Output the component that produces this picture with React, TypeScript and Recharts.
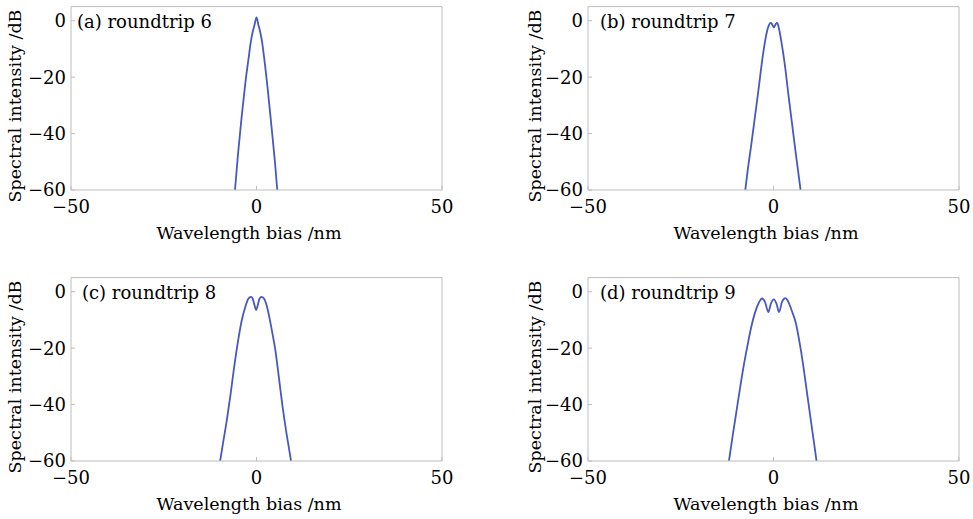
import React from "react";
import { LineChart, Line, XAxis, YAxis, Customized } from "recharts";

// wavelength bias (nm) and spectral intensity (dB)
const waveA = [-5.8, -5, -4, -3, -2, -1.6, -1, -0.5, 0, 0.5, 1, 1.5, 2, 3, 4, 5, 5.6];
const specA = [-60, -47.5, -34, -22, -12, -8, -3.8, -1.3, 1.2, -1.4, -4, -7.5, -12.5, -24, -37, -50.5, -60];

const waveB = [-7.6, -7, -6, -5, -4, -3, -2.3, -1.7, -1.2, -0.8, -0.4, 0.1, 0.6, 1, 1.4, 2, 3, 4, 5, 6, 7, 7.3];
const specB = [-60, -53.5, -44, -34, -24, -13.5, -7.5, -3.5, -1.5, -0.8, -1.2, -2.4, -1.2, -0.8, -2.3, -6.5, -15, -26, -36.5, -47, -57, -60];

const waveC = [-9.8, -9, -8, -7, -6, -5, -4, -3, -2.2, -1.5, -1, -0.5, -0.1, 0.3, 0.8, 1.4, 2.1, 3, 3.6, 4.5, 5, 6, 7, 8, 9, 9.3];
const specC = [-60, -53.5, -45.5, -36.5, -26.5, -17.7, -10.3, -5.3, -2.5, -1.8, -2.5, -5, -6.5, -5, -2.5, -1.8, -2.6, -6.2, -10, -16.3, -20, -30, -40.5, -49.5, -57.5, -60];

const waveD = [-12, -11, -10, -9, -8, -7, -6, -5, -4, -3.1, -2.3, -1.4, -0.7, 0.1, 0.8, 1.5, 2.3, 3.2, 4, 5, 6, 7, 8, 9, 10, 11, 11.6];
const specD = [-60, -51, -42.5, -34, -26, -19, -12.5, -7.5, -4, -2.4, -3.6, -7.2, -4.2, -2.7, -4.2, -7.2, -3.6, -2.3, -3.6, -7, -11, -17.8, -26, -35.5, -45, -54.3, -60];

const xTicks = [-50, 0, 50];
const yTicks = [-60, -40, -20, 0];

const FONT = "DejaVu Serif";
const FRAME = "#bdbdbd";
const LINE = "#4659bd";
const W = 456;
const H = 248;

type Panel = {
  tag: string;
  wave: number[];
  spec: number[];
  left: number;
  top: number;
  tagX: number;
  yLabelX: number;
};

const panels: Panel[] = [
  { tag: "(a) roundtrip 6", wave: waveA, spec: specA, left: 0, top: 0, tagX: 77, yLabelX: 21 },
  { tag: "(b) roundtrip 7", wave: waveB, spec: specB, left: 517, top: 0, tagX: 83, yLabelX: 24 },
  { tag: "(c) roundtrip 8", wave: waveC, spec: specC, left: 0, top: 271, tagX: 82, yLabelX: 21 },
  { tag: "(d) roundtrip 9", wave: waveD, spec: specD, left: 517, top: 271, tagX: 83, yLabelX: 24 },
];

const minus = (v: number) => String(v).replace("-", "\u2212");

function PanelText({ p }: { p: Panel }) {
  return (
    <g fontFamily={FONT} fill="#000">
      <text x={p.tagX} y={28} fontSize={18}>
        {p.tag}
      </text>
      <text x={249} y={239} fontSize={17.5} textAnchor="middle">
        Wavelength bias /nm
      </text>
      <text
        x={p.yLabelX}
        y={106}
        fontSize={17.5}
        textAnchor="middle"
        transform={`rotate(-90 ${p.yLabelX} 106)`}
      >
        Spectral intensity /dB
      </text>
    </g>
  );
}

function SpectrumPanel({ p }: { p: Panel }) {
  const data = p.wave.map((w, i) => ({ w, s: p.spec[i] }));
  const tickStyle = { fontFamily: FONT, fontSize: 18, fill: "#000" };
  return (
    <div style={{ position: "absolute", left: p.left, top: p.top }}>
      <LineChart width={W} height={H} data={data} margin={{ top: 5.6, right: 13, left: 0, bottom: 0 }}>
        <XAxis
          dataKey="w"
          type="number"
          domain={[-50, 50]}
          ticks={xTicks}
          allowDataOverflow
          height={58}
          tickSize={-4}
          tickMargin={14}
          tickFormatter={minus}
          tick={tickStyle}
          axisLine={{ stroke: FRAME }}
          tickLine={{ stroke: FRAME }}
        />
        <XAxis
          xAxisId="top"
          orientation="top"
          type="number"
          domain={[-50, 50]}
          ticks={xTicks}
          height={1}
          tickSize={-4}
          tick={false}
          axisLine={{ stroke: FRAME }}
          tickLine={{ stroke: FRAME }}
        />
        <YAxis
          type="number"
          domain={[-60, 5]}
          ticks={yTicks}
          allowDataOverflow
          width={71}
          tickSize={-4}
          tickMargin={9}
          tickFormatter={minus}
          tick={tickStyle}
          axisLine={{ stroke: FRAME }}
          tickLine={{ stroke: FRAME }}
        />
        <YAxis
          yAxisId="right"
          orientation="right"
          type="number"
          domain={[-60, 5]}
          ticks={yTicks}
          width={1}
          tickSize={-4}
          tick={false}
          axisLine={{ stroke: FRAME }}
          tickLine={{ stroke: FRAME }}
        />
        <Line
          dataKey="s"
          type="monotone"
          stroke={LINE}
          strokeWidth={1.8}
          dot={false}
          isAnimationActive={false}
        />
        <Customized component={<PanelText p={p} />} />
      </LineChart>
    </div>
  );
}

export default function App() {
  return (
    <div style={{ position: "relative", width: 973, height: 519, background: "#fff", overflow: "hidden" }}>
      <style>{"body{margin:0}"}</style>
      {panels.map((p) => (
        <SpectrumPanel key={p.tag} p={p} />
      ))}
    </div>
  );
}
